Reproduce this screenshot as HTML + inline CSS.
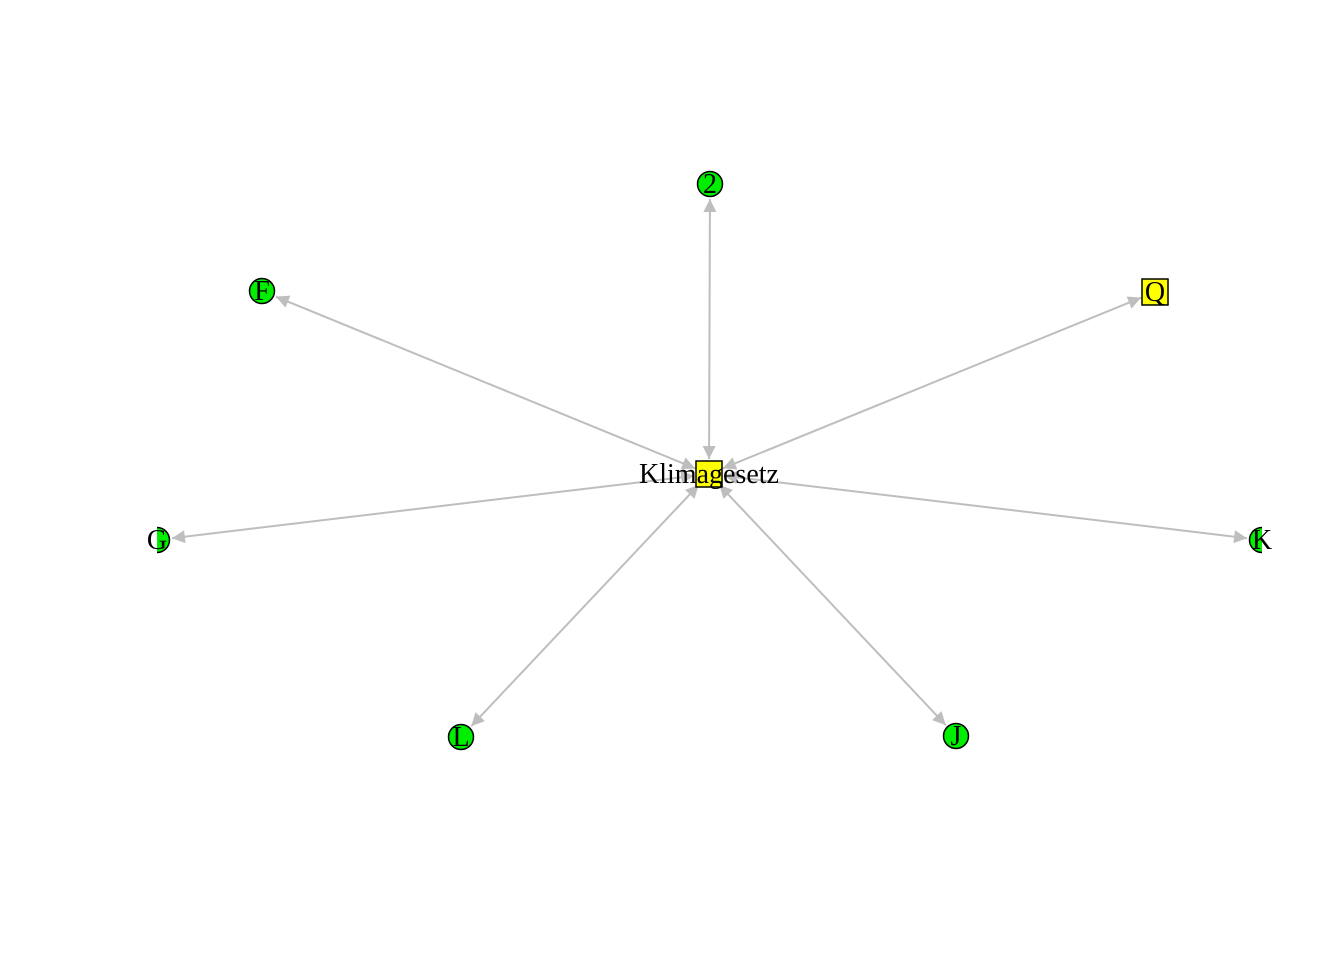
<!DOCTYPE html>
<html><head><meta charset="utf-8"><style>
html,body{margin:0;padding:0;background:#fff;}
svg{display:block;}
text{font-family:"Liberation Serif",serif;font-size:28px;}
</style></head><body>
<svg id="chart" width="1344" height="960" viewBox="0 0 1344 960">
<defs>
<clipPath id="plotclip"><rect x="157" y="0" width="1105" height="960"/></clipPath>
<marker id="ah" viewBox="0 0 10 10" refX="10" refY="5" markerWidth="14" markerHeight="13" markerUnits="userSpaceOnUse" orient="auto-start-reverse"><path d="M0,0 L10,5 L0,10 z" fill="#bebebe"/></marker>
</defs>
<g id="edges"></g>
<g id="nodes" clip-path="url(#plotclip)"></g>
<g id="labels"></g>
</svg>
<script>
const nodeNames = ["Klimagesetz","2","F","Q","G","K","L","J"];
const nodeX = [709,710,262,1155,157,1262,461,956];
const nodeY = [474,184,291,292,540,540,737,736];
const nodeShape = ["square","circle","circle","square","circle","circle","circle","circle"];
const nodeColor = ["#ffff00","#00ee00","#00ee00","#ffff00","#00ee00","#00ee00","#00ee00","#00ee00"];
const edgeFrom = [0,0,0,0,0,0,0];
const edgeTo = [1,2,3,4,5,6,7];
const NS="http://www.w3.org/2000/svg";
const eg=document.getElementById('edges'), ng=document.getElementById('nodes'), lg=document.getElementById('labels');
for(let i=0;i<edgeFrom.length;i++){
  const a=edgeFrom[i], b=edgeTo[i];
  const dx=nodeX[b]-nodeX[a], dy=nodeY[b]-nodeY[a], d=Math.hypot(dx,dy);
  const ux=dx/d, uy=dy/d, r0=15, r1=15;
  const l=document.createElementNS(NS,'line');
  
  
  l.setAttribute('x1',nodeX[a]+ux*r0);l.setAttribute('y1',nodeY[a]+uy*r0);
  l.setAttribute('x2',nodeX[b]-ux*r1);l.setAttribute('y2',nodeY[b]-uy*r1);
  l.setAttribute('stroke','#bebebe');l.setAttribute('stroke-width','2');
  l.setAttribute('marker-end','url(#ah)');l.setAttribute('marker-start','url(#ah)');
  eg.appendChild(l);
}
for(let i=0;i<nodeNames.length;i++){
  let s;
  if(nodeShape[i]==='square'){
    s=document.createElementNS(NS,'rect');
    s.setAttribute('x',nodeX[i]-13);s.setAttribute('y',nodeY[i]-13);
    s.setAttribute('width',26);s.setAttribute('height',26);
  } else {
    s=document.createElementNS(NS,'circle');
    s.setAttribute('cx',nodeX[i]);s.setAttribute('cy',nodeY[i]);s.setAttribute('r',12.5);
  }
  
  
  s.setAttribute('fill',nodeColor[i]);s.setAttribute('stroke','#000');s.setAttribute('stroke-width','1.5');
  ng.appendChild(s);
  const t=document.createElementNS(NS,'text');
  
  
  t.setAttribute('x',nodeX[i]);t.setAttribute('y',nodeY[i]+9);
  t.setAttribute('text-anchor','middle');
  t.textContent=nodeNames[i];
  lg.appendChild(t);
}
</script>
</body></html>
